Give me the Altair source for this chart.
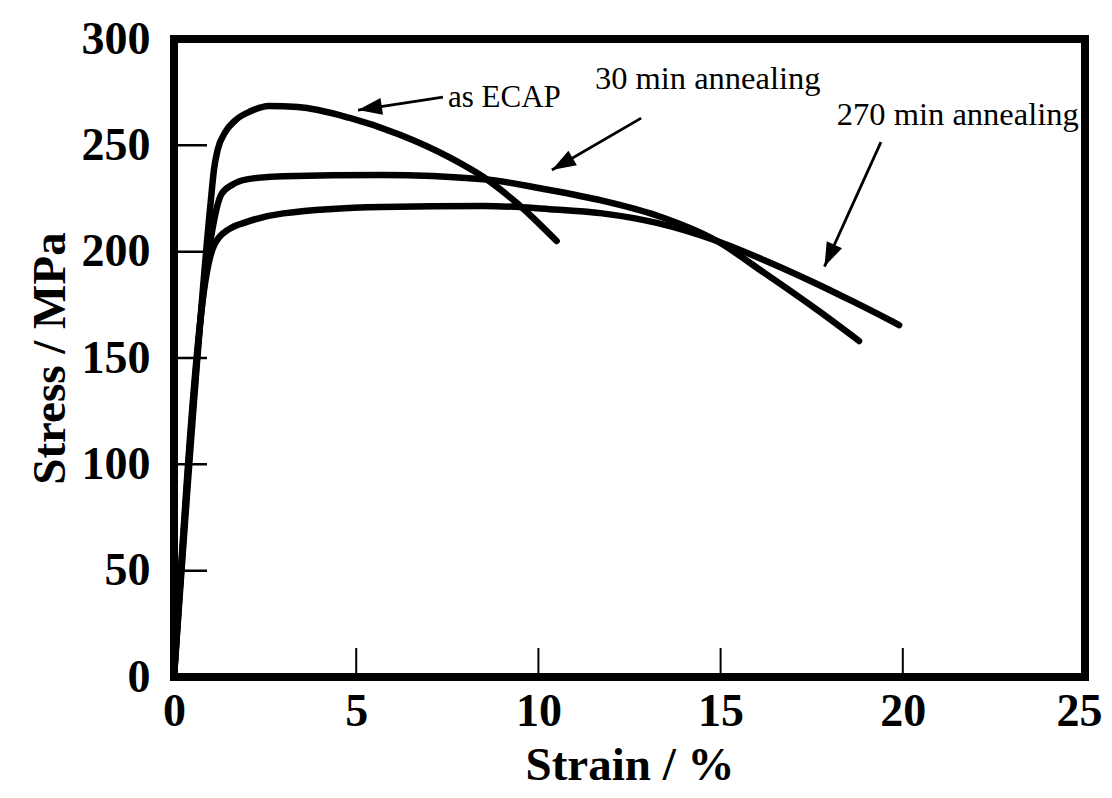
import math
import altair as alt
import pandas as pd

# ---- data ----
ecap_strain = [0, 1.0, 1.1, 1.2, 1.4, 1.7, 2.1, 2.6, 3.4, 4.8, 6.2, 7.6, 8.5, 9.4, 10.5]
ecap_stress = [0, 222, 239, 248, 256, 262, 266, 268.5, 268, 263, 255, 244, 235, 223, 205]

m30_strain = [0, 0.95, 1.07, 1.18, 1.3, 1.6, 2.0, 3.0, 5.7, 8.5, 10.3, 11.75, 13.25, 14.9, 16.2, 17.7, 18.8]
m30_stress = [0, 200, 212, 221, 227, 231.5, 234, 235.5, 236, 234, 229, 224, 217, 205, 190, 172, 158]

m270_strain = [0, 0.9, 1.0, 1.1, 1.25, 1.5, 2.0, 3.0, 5.7, 8.5, 10.3, 11.75, 13.25, 14.9, 16.2, 17.5, 18.7, 19.9]
m270_stress = [0, 190, 198, 203, 207, 210.5, 214, 218, 221, 221.5, 220, 218, 213.5, 205, 196, 186, 176, 165.5]

x_ticks = [0, 5, 10, 15, 20, 25]
y_ticks = [0, 50, 100, 150, 200, 250, 300]
x_inner_ticks = [5, 10, 15, 20]
y_inner_ticks = [50, 100, 150, 200, 250]

label_text = ["as ECAP", "30 min annealing", "270 min annealing"]
label_x = [7.52, 11.55, 18.19]
label_y = [268, 276.4, 259.5]

arrow_start_x = [7.38, 12.82, 19.4]
arrow_start_y = [272.7, 262.8, 251.5]
arrow_tip_x = [5.05, 10.37, 17.85]
arrow_tip_y = [266.6, 238.4, 193]

# ---- layout ----
W, H = 911, 638
X_DOM, Y_DOM = [0, 25], [0, 300]
FONT = "Liberation Serif"

rows = []
for name, xs_, ys_ in [("as ECAP", ecap_strain, ecap_stress),
                       ("30 min", m30_strain, m30_stress),
                       ("270 min", m270_strain, m270_stress)]:
    for i, (a, b) in enumerate(zip(xs_, ys_)):
        rows.append({"series": name, "strain": a, "stress": b, "idx": i})
curves = pd.DataFrame(rows)

px_x = W / (X_DOM[1] - X_DOM[0])
px_y = H / (Y_DOM[1] - Y_DOM[0])
arrows = pd.DataFrame({"sx": arrow_start_x, "sy": arrow_start_y,
                       "tx": arrow_tip_x, "ty": arrow_tip_y})
arrows["ang"] = [
    (math.degrees(math.atan2((tx - sx) * px_x, (ty - sy) * px_y)) + 360) % 360
    for sx, sy, tx, ty in zip(arrows.sx, arrows.sy, arrows.tx, arrows.ty)
]
labels = pd.DataFrame({"t": label_text, "x": label_x, "y": label_y})

xs = alt.Scale(domain=X_DOM, nice=False, zero=False)
ys = alt.Scale(domain=Y_DOM, nice=False, zero=False)

x_axis = alt.Axis(values=x_ticks, format="d", ticks=False, domain=False, grid=False,
                  labelFont=FONT, labelFontWeight="bold", labelFontSize=46, labelColor="black",
                  labelPadding=12, labelFlush=False, labelOverlap=False,
                  labelOffset=alt.ExprRef(expr="datum.value == 25 ? -6 : 0"),
                  title="Strain / %", titleFont=FONT, titleFontWeight="bold", titleFontSize=47,
                  titleColor="black", titleX=W / 2, titleY=102, titleAlign="center",
                  titleBaseline="alphabetic")
y_axis = alt.Axis(values=y_ticks, format="d", ticks=False, domain=False, grid=False,
                  labelFont=FONT, labelFontWeight="bold", labelFontSize=46, labelColor="black",
                  labelPadding=24, labelFlush=False, labelOverlap=False,
                  title="Stress / MPa", titleFont=FONT, titleFontWeight="bold", titleFontSize=47,
                  titleColor="black", titleX=-110, titleY=H / 2, titleAngle=270,
                  titleAlign="center", titleBaseline="alphabetic")

lines = alt.Chart(curves).mark_line(
    color="black", strokeWidth=6.5, interpolate="monotone", clip=True, strokeCap="round"
).encode(
    x=alt.X("strain:Q", scale=xs, axis=x_axis),
    y=alt.Y("stress:Q", scale=ys, axis=y_axis),
    detail="series:N",
    order="idx:Q",
)

xt = alt.Chart(pd.DataFrame({"v": x_inner_ticks})).mark_rule(color="black", strokeWidth=2).encode(
    x=alt.X("v:Q", scale=xs, axis=x_axis), y=alt.value(H), y2=alt.value(H - 29))
yt = alt.Chart(pd.DataFrame({"v": y_inner_ticks})).mark_rule(color="black", strokeWidth=2.5).encode(
    y=alt.Y("v:Q", scale=ys, axis=y_axis), x=alt.value(0), x2=alt.value(33))

arrow_lines = alt.Chart(arrows).mark_rule(color="black", strokeWidth=2.8).encode(
    x=alt.X("sx:Q", scale=xs, axis=x_axis), y=alt.Y("sy:Q", scale=ys, axis=y_axis),
    x2="tx:Q", y2="ty:Q")
arrow_heads = alt.Chart(arrows).mark_point(
    shape="M0,0L0.7,2L-0.7,2Z", filled=True, size=576, color="black", opacity=1, strokeWidth=0
).encode(
    x=alt.X("tx:Q", scale=xs, axis=x_axis), y=alt.Y("ty:Q", scale=ys, axis=y_axis),
    angle=alt.Angle("ang:Q", scale=None))

texts_small = alt.Chart(labels).transform_filter(alt.datum.t == "as ECAP").mark_text(
    align="left", baseline="alphabetic", font=FONT, fontSize=31, color="black"
).encode(x=alt.X("x:Q", scale=xs, axis=x_axis), y=alt.Y("y:Q", scale=ys, axis=y_axis), text="t:N")
texts_big = alt.Chart(labels).transform_filter(alt.datum.t != "as ECAP").mark_text(
    align="left", baseline="alphabetic", font=FONT, fontSize=32.5, color="black"
).encode(x=alt.X("x:Q", scale=xs, axis=x_axis), y=alt.Y("y:Q", scale=ys, axis=y_axis), text="t:N")

chart = alt.layer(lines, xt, yt, arrow_lines, arrow_heads, texts_small, texts_big).properties(
    width=W, height=H,
    autosize=alt.AutoSizeParams(type="none"),
    padding={"left": 166, "top": 31, "right": 19, "bottom": 113},
    background="white",
).configure_view(stroke="black", strokeWidth=8)

chart.save("out.html", embed_options={"renderer": "svg", "actions": False})
